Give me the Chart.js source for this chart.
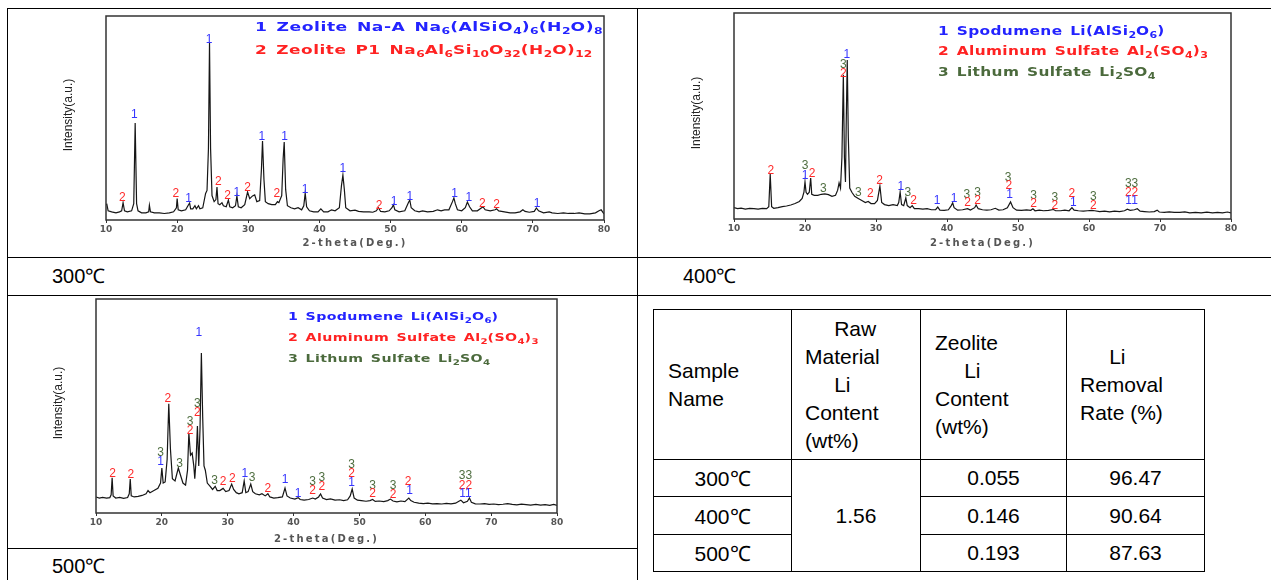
<!DOCTYPE html>
<html>
<head>
<meta charset="utf-8">
<script src="https://cdn.jsdelivr.net/npm/chart.js@4.4.1/dist/chart.umd.min.js"></script>
<style>
  body { margin: 0; width: 1271px; height: 580px; background: #fff; position: relative; overflow: hidden;
         font-family: "Liberation Sans", Arial, sans-serif; color: #000; }
  .hl { position: absolute; height: 0; border-top: 1px solid #000; }
  .vl { position: absolute; width: 0; border-left: 1px solid #000; }
  .plot { position: absolute; }
  .cap { position: absolute; font-size: 20px; line-height: 20px; margin-top: -10px; }
  .legend { position: absolute; font-family: "DejaVu Sans", sans-serif; font-weight: bold; font-size: 12px;
            letter-spacing: 0.3px; word-spacing: 1.5px; white-space: nowrap; line-height: 14px; }
  .legend div { position: absolute; left: 0; margin-top: -7px; transform: scaleX(1.28); transform-origin: 0 50%; }
  .legend sub { font-size: 0.72em; vertical-align: -0.35em; line-height: 0; letter-spacing: 0; }
  .c1 { color: #2323ff; } .c2 { color: #ff2222; } .c3 { color: #4b6a3c; }
  table { position: absolute; left: 653px; top: 309px; border-collapse: collapse; table-layout: fixed;
          font-size: 21px; }
  td { border: 1px solid #000; padding: 0; }
  td.h { vertical-align: middle; text-align: left; line-height: 28px; }
  td.b { text-align: center; vertical-align: middle; }
</style>
</head>
<body>

<!-- outer grid -->
<div class="hl" style="left:7px; top:8px; width:1264px"></div>
<div class="hl" style="left:7px; top:257px; width:1264px"></div>
<div class="hl" style="left:7px; top:295px; width:1264px"></div>
<div class="hl" style="left:7px; top:548px; width:631px"></div>
<div class="vl" style="left:7px; top:8px; height:572px"></div>
<div class="vl" style="left:637px; top:8px; height:572px"></div>

<div class="plot" style="left:56px; top:10px"><canvas id="xrd300" width="598" height="250"></canvas></div>
<div class="plot" style="left:684px; top:7px"><canvas id="xrd400" width="597" height="252"></canvas></div>
<div class="plot" style="left:46px; top:293px"><canvas id="xrd500" width="561" height="260"></canvas></div>

<div class="legend" style="left:255px; top:0; font-size:13px; letter-spacing:0.4px; word-spacing:2px">
  <div class="c1" style="top:27px; transform:scaleX(1.32)">1 Zeolite Na-A Na<sub>6</sub>(AlSiO<sub>4</sub>)<sub>6</sub>(H<sub>2</sub>O)<sub>8</sub></div>
  <div class="c2" style="top:50px; transform:scaleX(1.3)">2 Zeolite P1 Na<sub>6</sub>Al<sub>6</sub>Si<sub>10</sub>O<sub>32</sub>(H<sub>2</sub>O)<sub>12</sub></div>
</div>
<div class="legend" style="left:938px; top:0">
  <div class="c1" style="top:31px">1 Spodumene Li(AlSi<sub>2</sub>O<sub>6</sub>)</div>
  <div class="c2" style="top:51px">2 Aluminum Sulfate Al<sub>2</sub>(SO<sub>4</sub>)<sub>3</sub></div>
  <div class="c3" style="top:72px">3 Lithum Sulfate Li<sub>2</sub>SO<sub>4</sub></div>
</div>
<div class="legend" style="left:288px; top:0; font-size:11px">
  <div class="c1" style="top:317px; transform:scaleX(1.29)">1 Spodumene Li(AlSi<sub>2</sub>O<sub>6</sub>)</div>
  <div class="c2" style="top:338px; transform:scaleX(1.29)">2 Aluminum Sulfate Al<sub>2</sub>(SO<sub>4</sub>)<sub>3</sub></div>
  <div class="c3" style="top:359px; transform:scaleX(1.29)">3 Lithum Sulfate Li<sub>2</sub>SO<sub>4</sub></div>
</div>

<div class="cap" style="left:52px; top:276px">300℃</div>
<div class="cap" style="left:683px; top:276px">400℃</div>
<div class="cap" style="left:52px; top:566px">500℃</div>

<table>
  <colgroup><col style="width:138px"><col style="width:129px"><col style="width:146px"><col style="width:138px"></colgroup>
  <tr style="height:150px">
    <td class="h" style="padding-left:14px">Sample<br>Name</td>
    <td class="h" style="padding-left:13px">&nbsp;&nbsp;&nbsp;&nbsp;&nbsp;Raw<br>Material<br>&nbsp;&nbsp;&nbsp;&nbsp;&nbsp;Li<br>Content<br>(wt%)</td>
    <td class="h" style="padding-left:14px">Zeolite<br>&nbsp;&nbsp;&nbsp;&nbsp;&nbsp;Li<br>Content<br>(wt%)</td>
    <td class="h" style="padding-left:13px">&nbsp;&nbsp;&nbsp;&nbsp;&nbsp;Li<br>Removal<br>Rate (%)</td>
  </tr>
  <tr style="height:37px"><td class="b" id="s0"></td><td class="b" rowspan="3" id="raw"></td><td class="b" id="z0"></td><td class="b" id="r0"></td></tr>
  <tr style="height:38px"><td class="b" id="s1"></td><td class="b" id="z1"></td><td class="b" id="r1"></td></tr>
  <tr style="height:37px"><td class="b" id="s2"></td><td class="b" id="z2"></td><td class="b" id="r2"></td></tr>
</table>

<script>
// ---- table values ----
const sampleNames = ["300℃", "400℃", "500℃"];
const rawLiContent = "1.56";
const zeoliteLiContent = ["0.055", "0.146", "0.193"];
const liRemovalRate = ["96.47", "90.64", "87.63"];

// ---- XRD patterns: [2-theta, intensity (a.u., 0-100 of plot height)] ----
const xrd300 = [
  [10.0, 7.5], [10.1, 8], [10.3, 4.5], [10.8, 4], [11.4, 3.5], [11.9, 4], [12.2, 4.5], [12.4, 8.5], [12.6, 4.5],
  [13.0, 4], [13.6, 4.5], [13.9, 8], [14.1, 47.5], [14.3, 8], [14.5, 4.5], [15.0, 3.5], [15.6, 3.5], [16.0, 4],
  [16.1, 7.2], [16.25, 4], [16.8, 3.5], [17.5, 3.5], [18.2, 3.2], [18.9, 3.5], [19.5, 4], [19.9, 6], [20.0, 10.5],
  [20.15, 5], [20.6, 4.5], [21.2, 5], [21.6, 7.5], [21.75, 8.3], [21.9, 5.5], [22.2, 5.5], [22.5, 7], [22.7, 5.5],
  [23.0, 7], [23.2, 5.5], [23.6, 6], [24.0, 13], [24.2, 14.5], [24.4, 35], [24.55, 86.8], [24.7, 35], [24.9, 12],
  [25.2, 9], [25.45, 10], [25.6, 16.2], [25.75, 8], [26.0, 7.5], [26.3, 8.5], [26.5, 7], [26.9, 6.5], [27.2, 9.8],
  [27.4, 6.5], [27.8, 6], [28.2, 7], [28.4, 11.8], [28.6, 6.5], [29.0, 6], [29.5, 7.5], [29.9, 13.7], [30.2, 10.5],
  [30.6, 11.8], [30.9, 12.3], [31.2, 9], [31.6, 9.5], [31.85, 25], [32.0, 38.7], [32.2, 20], [32.4, 9], [32.8, 8],
  [33.3, 7.5], [33.8, 7.5], [34.1, 9], [34.3, 8.5], [34.7, 12], [34.9, 30], [35.05, 38.2], [35.25, 15], [35.5, 7],
  [36.0, 6], [36.5, 5.5], [37.0, 6], [37.5, 5], [37.8, 7], [38.0, 13.2], [38.2, 6.5], [38.6, 4.5], [39.2, 4],
  [39.8, 4], [40.2, 5.5], [40.6, 4], [41.2, 4], [41.7, 5], [42.2, 4.5], [42.8, 6], [43.1, 17], [43.3, 22],
  [43.5, 15], [43.7, 6], [44.3, 4.5], [45.0, 4.8], [45.5, 4.2], [46.2, 4], [47.0, 4], [47.5, 3.8], [48.0, 4.5],
  [48.3, 6], [48.6, 4.2], [49.2, 4], [49.8, 4.5], [50.2, 6], [50.4, 7.5], [50.6, 5], [51.2, 4], [52.0, 4.5],
  [52.5, 8.5], [52.7, 9.8], [52.9, 6], [53.4, 4.5], [54.0, 4], [54.5, 4.5], [55.2, 4], [56.0, 4.2], [56.6, 5],
  [57.1, 4.5], [57.6, 5], [58.2, 5], [58.7, 9], [58.9, 10.8], [59.1, 8], [59.4, 5], [60.0, 4.5], [60.5, 6],
  [60.8, 8.8], [61.1, 6.5], [61.5, 4.5], [62.2, 4.5], [62.8, 6], [63.0, 6.4], [63.3, 5], [64.0, 4.5], [64.7, 5],
  [64.9, 5.5], [65.2, 4.5], [66.0, 4], [66.8, 3.5], [67.5, 3.5], [68.2, 4], [68.6, 5], [68.9, 4.2], [69.5, 3.8],
  [70.2, 4.2], [70.5, 5.9], [70.8, 4.5], [71.5, 3.5], [72.3, 4], [72.7, 3.5], [73.5, 3.2], [74.3, 3.5], [75.0, 3.2],
  [75.8, 3.2], [76.5, 3.5], [77.3, 3], [78.0, 3], [78.8, 3.5], [79.3, 4.5], [79.6, 5], [79.9, 3.5], [80.0, 3]
];
const xrd400 = [
  [10.0, 5.5], [10.5, 5], [11.0, 5.3], [11.6, 4.8], [12.2, 5.2], [12.8, 5], [13.4, 4.8], [14.0, 5.2], [14.6, 5],
  [14.9, 6], [15.1, 21.8], [15.3, 6], [15.6, 5.2], [16.2, 5.5], [16.8, 6], [17.4, 6.3], [18.0, 6.8], [18.6, 7.5],
  [19.2, 8.5], [19.6, 10], [19.85, 13], [20.0, 18], [20.15, 13], [20.35, 12], [20.6, 13], [20.8, 19.9], [20.95, 12],
  [21.3, 11.5], [21.8, 11.5], [22.3, 12], [22.8, 12.2], [23.3, 11.8], [23.8, 11], [24.3, 11.5], [24.6, 14],
  [24.8, 17.5], [25.0, 15], [25.2, 30], [25.4, 70], [25.55, 30], [25.7, 18], [25.8, 45], [25.95, 77.2], [26.1, 40],
  [26.3, 15], [26.6, 13], [27.0, 11], [27.5, 10], [28.0, 9], [28.5, 8], [28.9, 8.5], [29.3, 7.5], [29.8, 7.5],
  [30.2, 9], [30.55, 16], [30.8, 8], [31.2, 7], [31.8, 6.5], [32.4, 7], [33.0, 6.5], [33.2, 8], [33.4, 13.1],
  [33.6, 7], [33.9, 6.5], [34.2, 10.2], [34.4, 6.5], [34.8, 5.5], [35.1, 6.5], [35.4, 5], [36.0, 5], [36.6, 4.8],
  [37.2, 5], [37.8, 4.5], [38.4, 4.5], [38.7, 5.8], [39.0, 4.3], [39.6, 4.2], [40.2, 4.5], [40.6, 6.5], [40.8, 7.8],
  [41.0, 5.5], [41.5, 4.3], [42.2, 4.5], [42.9, 5], [43.3, 4.3], [43.9, 5.5], [44.1, 6.8], [44.4, 5], [45.0, 4.5],
  [45.6, 4.3], [46.2, 4.5], [46.8, 5.2], [47.3, 4.3], [47.9, 4.5], [48.5, 5.5], [48.95, 8.3], [49.3, 5.5],
  [49.8, 4.3], [50.5, 4.2], [51.2, 4.4], [51.8, 4.2], [52.1, 5], [52.4, 4], [53.0, 4.3], [53.6, 4], [54.3, 4.2],
  [55.0, 4.6], [55.3, 4], [56.0, 4], [56.6, 4.3], [57.2, 4], [57.6, 5.5], [57.9, 4.3], [58.5, 4], [59.2, 3.8],
  [59.8, 4], [60.4, 4.2], [60.8, 4], [61.5, 3.6], [62.2, 3.8], [62.9, 3.5], [63.6, 3.8], [64.3, 3.6], [65.0, 4],
  [65.4, 4.8], [65.8, 4.2], [66.4, 4.5], [66.8, 5], [67.2, 3.8], [67.8, 3.6], [68.5, 3.4], [69.2, 3.6], [69.6, 4.3],
  [69.9, 3.4], [70.6, 3.2], [71.3, 3.5], [72.0, 3.2], [72.8, 3.2], [73.5, 3.5], [74.2, 3], [75.0, 3.2], [75.8, 3],
  [76.6, 3.3], [77.4, 3], [78.1, 3.2], [78.8, 3], [79.5, 3.4], [80.0, 3]
];
const xrd500 = [
  [10.0, 7.5], [10.5, 7], [11.0, 7.3], [11.6, 7], [12.1, 7.2], [12.3, 8.5], [12.45, 16.4], [12.6, 8], [13.0, 7],
  [13.6, 7.3], [14.2, 6.8], [14.8, 7.2], [15.05, 9], [15.2, 15.9], [15.35, 8], [15.8, 7.5], [16.4, 7.8], [17.0, 8.2],
  [17.6, 9], [17.9, 10.5], [18.2, 9.5], [18.8, 10.5], [19.4, 11.5], [19.8, 14], [20.0, 21], [20.2, 14], [20.5, 14.5],
  [20.8, 25], [21.05, 51], [21.3, 30], [21.6, 16], [22.0, 15], [22.5, 21], [22.8, 18], [23.2, 14], [23.6, 13],
  [23.9, 20], [24.1, 37.4], [24.35, 27], [24.6, 28], [24.85, 22], [25.0, 16], [25.2, 25], [25.4, 40.7], [25.6, 22],
  [25.8, 40], [26.0, 74.8], [26.2, 45], [26.4, 22], [26.6, 20], [26.9, 14], [27.3, 12.6], [27.7, 11], [28.1, 12.5],
  [28.4, 10.5], [28.8, 10.5], [29.3, 11.5], [29.7, 10], [30.2, 10.5], [30.6, 13.5], [30.9, 11], [31.3, 9.5],
  [31.7, 9], [32.2, 9.5], [32.5, 15], [32.75, 9.5], [33.1, 10], [33.5, 13.5], [33.8, 10], [34.2, 9], [34.8, 8.5],
  [35.2, 9], [35.7, 8], [36.1, 9], [36.4, 7.5], [37.0, 7], [37.6, 7.2], [38.3, 7.5], [38.7, 11.7], [39.0, 8],
  [39.5, 7], [40.2, 6.5], [40.7, 7.2], [41.0, 6.3], [41.6, 6], [42.3, 6.3], [42.9, 7], [43.3, 6.5], [43.8, 7.5],
  [44.1, 8.9], [44.4, 7], [45.0, 6.3], [45.6, 6.6], [46.3, 6], [47.0, 6.2], [47.6, 5.8], [48.2, 6.2], [48.6, 8],
  [48.9, 11.2], [49.2, 7], [49.7, 6], [50.3, 5.8], [51.0, 5.5], [51.6, 5.8], [52.0, 6.3], [52.4, 5.4], [53.0, 5.6],
  [53.7, 5.3], [54.3, 5.8], [54.7, 6.5], [55.1, 5.6], [55.7, 5.2], [56.3, 5.6], [56.9, 5.3], [57.5, 7], [57.8, 5.8],
  [58.3, 5], [59.0, 4.6], [59.7, 4.4], [60.4, 4.6], [61.1, 4.3], [61.8, 4.4], [62.5, 4.2], [63.2, 4.5], [63.9, 4.3],
  [64.6, 4.6], [65.1, 5.5], [65.4, 6], [65.8, 4.8], [66.4, 5.5], [66.7, 7], [67.0, 5], [67.6, 4.3], [68.3, 4.2],
  [69.0, 4.4], [69.7, 4], [70.4, 4.2], [71.1, 3.9], [71.8, 4.1], [72.5, 4.4], [73.2, 4], [73.9, 3.8], [74.6, 4.1],
  [75.3, 3.9], [76.0, 3.7], [76.8, 4], [77.5, 3.7], [78.2, 3.9], [78.9, 3.6], [79.5, 4], [80.0, 3.6]
];

// ---- peak markers: [2-theta, intensity, phase label] ----
const peaks300 = [
  [12.3, 11, "2"], [14.0, 51.5, "1"], [19.8, 12.7, "2"], [21.6, 10.3, "1"], [24.5, 88.2, "1"], [25.8, 18.8, "2"],
  [27.1, 11.8, "2"], [28.4, 13.6, "1"], [29.9, 16, "2"], [31.9, 41, "1"], [34.0, 12.7, "2"], [35.1, 41, "1"],
  [38.0, 15, "1"], [43.3, 25, "1"], [48.4, 7, "2"], [50.5, 8.8, "1"], [52.7, 11.3, "1"], [59.0, 12.7, "1"],
  [61.0, 11, "1"], [62.9, 8.2, "2"], [64.9, 7.7, "2"], [70.6, 8.2, "1"]
];
const peaks400 = [
  [15.2, 23.4, "2"], [20.0, 25.9, "3"], [20.0, 21, "1"], [21.0, 21.8, "2"], [22.6, 14.6, "3"], [25.9, 80, "1"],
  [25.4, 74.8, "3"], [25.4, 70.7, "2"], [27.5, 12.8, "3"], [29.2, 12.5, "2"], [30.5, 18.4, "2"], [33.5, 15.7, "1"],
  [34.5, 12.8, "3"], [35.3, 8.7, "2"], [38.6, 8.7, "1"], [41.0, 9.7, "1"], [42.8, 12, "3"], [42.9, 7.8, "2"],
  [44.3, 12.9, "3"], [44.3, 8.7, "2"], [48.6, 20.2, "3"], [48.7, 16.2, "2"], [48.8, 12, "1"], [52.2, 11.3, "3"],
  [52.2, 7.6, "2"], [55.2, 10.3, "3"], [55.2, 6.4, "2"], [57.6, 12.5, "2"], [57.8, 8.1, "1"], [60.6, 10.8, "3"],
  [60.6, 6.5, "2"], [66.0, 17.3, "33"], [66.0, 12.9, "22"], [66.0, 8.7, "11"]
];
const peaks500 = [
  [12.5, 18.2, "2"], [15.3, 17.8, "2"], [19.8, 28.4, "3"], [19.8, 24, "1"], [20.9, 53.6, "2"], [22.7, 23.2, "3"],
  [24.3, 42.7, "3"], [24.3, 38.5, "2"], [25.4, 51.3, "3"], [25.4, 47, "2"], [25.6, 84.3, "1"], [28.0, 15.1, "3"],
  [29.3, 14.6, "2"], [30.7, 15.9, "2"], [32.6, 18.6, "1"], [33.7, 16.5, "3"], [36.1, 11.2, "2"], [38.7, 15.4, "1"],
  [40.7, 9.2, "1"], [42.9, 14.6, "3"], [42.9, 10.3, "2"], [44.3, 16.7, "3"], [44.3, 12.3, "2"], [48.8, 22.8, "3"],
  [48.8, 18.6, "2"], [48.8, 14.2, "1"], [52.0, 12.8, "3"], [52.0, 9.2, "2"], [55.1, 12.6, "3"], [55.1, 8.4, "2"],
  [57.4, 14.6, "2"], [57.6, 10.3, "1"], [66.1, 17.3, "33"], [66.1, 12.8, "22"], [66.1, 9.2, "11"]
];
const phaseColors = { "1": "#3535ff", "2": "#ff2a2a", "3": "#4f6e40" };

// fill the table
sampleNames.forEach((s, i) => { document.getElementById("s" + i).textContent = s; });
zeoliteLiContent.forEach((v, i) => { document.getElementById("z" + i).textContent = v; });
liRemovalRate.forEach((v, i) => { document.getElementById("r" + i).textContent = v; });
document.getElementById("raw").textContent = rawLiContent;

// frame, peak numbers and axis titles
const xrdDecor = {
  id: "xrdDecor",
  afterDatasetsDraw(chart, args, o) {
    const { ctx, chartArea: a, scales: { x, y } } = chart;
    ctx.save();
    ctx.strokeStyle = "#333";
    ctx.lineWidth = 1.5;
    ctx.strokeRect(a.left, a.top, a.right - a.left, a.bottom - a.top);

    ctx.font = o.peakFont;
    ctx.textAlign = "center";
    ctx.textBaseline = "middle";
    o.peaks.forEach(([t, v, s]) => {
      ctx.fillStyle = phaseColors[s[0]];
      ctx.fillText(s, x.getPixelForValue(t), y.getPixelForValue(v));
    });

    ctx.fillStyle = "#555";
    ctx.font = o.xTitleFont;
    ctx.letterSpacing = o.xTitleSpacing;
    ctx.fillText(o.xTitle, (a.left + a.right) / 2, a.bottom + o.xTitleGap);
    ctx.letterSpacing = "0px";

    ctx.fillStyle = "#222";
    ctx.font = o.yTitleFont;
    ctx.translate(a.left - o.yTitleGap, (a.top + a.bottom) / 2 - 3);
    ctx.rotate(-Math.PI / 2);
    ctx.fillText(o.yTitle, 0, 0);
    ctx.restore();
  }
};

function drawXrd(id, points, peaks, s) {
  new Chart(document.getElementById(id), {
    type: "line",
    data: {
      datasets: [{
        data: points.map(p => ({ x: p[0], y: p[1] })),
        borderColor: "#161616",
        borderWidth: 1.2,
        pointRadius: 0,
        tension: 0
      }]
    },
    options: {
      responsive: false,
      animation: false,
      devicePixelRatio: 1,
      layout: { padding: { left: 50, right: 50, top: s.top, bottom: 0 } },
      plugins: {
        legend: { display: false },
        tooltip: { enabled: false },
        xrdDecor: {
          peaks: peaks,
          peakFont: s.peakFont,
          xTitle: "2-theta(Deg.)",
          xTitleFont: s.xTitleFont,
          xTitleSpacing: "2.2px",
          xTitleGap: s.xTitleGap,
          yTitle: "Intensity(a.u.)",
          yTitleFont: s.yTitleFont,
          yTitleGap: 37
        }
      },
      scales: {
        x: {
          type: "linear",
          min: 10,
          max: 80,
          ticks: { stepSize: 10, color: "#555", padding: 1, maxRotation: 0,
                   font: { family: "DejaVu Sans", size: s.tickSize, weight: "bold" } },
          grid: { display: true, drawOnChartArea: false, drawTicks: true, tickLength: 3, color: "#333" },
          border: { display: false },
          afterFit(scale) { scale.height = s.axisHeight; }
        },
        y: { display: false, min: 0, max: 100 }
      }
    },
    plugins: [xrdDecor]
  });
}

drawXrd("xrd300", xrd300, peaks300, { top: 6, axisHeight: 40, tickSize: 9, peakFont: "12px 'Liberation Sans'",
  xTitleFont: "bold 10px 'DejaVu Sans'", xTitleGap: 23.5, yTitleFont: "12px 'Liberation Sans Narrow', 'Liberation Sans'" });
drawXrd("xrd400", xrd400, peaks400, { top: 6, axisHeight: 40, tickSize: 9, peakFont: "12px 'Liberation Sans'",
  xTitleFont: "bold 10px 'DejaVu Sans'", xTitleGap: 24, yTitleFont: "12px 'Liberation Sans Narrow', 'Liberation Sans'" });
drawXrd("xrd500", xrd500, peaks500, { top: 6, axisHeight: 40, tickSize: 9, peakFont: "12px 'Liberation Sans'",
  xTitleFont: "bold 10px 'DejaVu Sans'", xTitleGap: 26, yTitleFont: "12px 'Liberation Sans Narrow', 'Liberation Sans'" });
</script>
</body>
</html>
